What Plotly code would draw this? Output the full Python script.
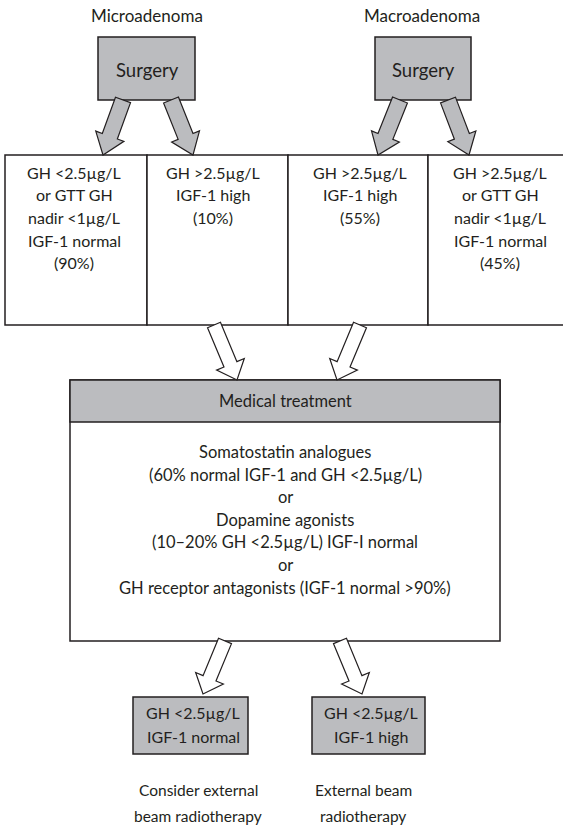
import math
import plotly.graph_objects as go

# ---- data (text content) ----
top_labels = ["Microadenoma", "Macroadenoma"]
surgery_label = "Surgery"
outcome_lines = [
    ["GH <2.5µg/L", "or GTT GH", "nadir <1µg/L", "IGF-1 normal", "(90%)"],
    ["GH >2.5µg/L", "IGF-1 high", "(10%)"],
    ["GH >2.5µg/L", "IGF-1 high", "(55%)"],
    ["GH >2.5µg/L", "or GTT GH", "nadir <1µg/L", "IGF-1 normal", "(45%)"],
]
medical_title = "Medical treatment"
medical_lines = [
    "Somatostatin analogues",
    "(60% normal IGF-1 and GH <2.5µg/L)",
    "or",
    "Dopamine agonists",
    "(10–20% GH <2.5µg/L) IGF-I normal",
    "or",
    "GH receptor antagonists (IGF-1 normal >90%)",
]
result_lines = [["GH <2.5µg/L", "IGF-1 normal"], ["GH <2.5µg/L", "IGF-1 high"]]
action_lines = [["Consider external", "beam radiotherapy"], ["External beam", "radiotherapy"]]

W, H = 563, 825
FONT = "Lato"
INK = "#231f20"
GRAY = "#bbbcbf"

fig = go.Figure()
shapes = []
annotations = []


def rect(x0, y0, x1, y1, fill="white", lw=1.5):
    shapes.append(dict(type="rect", xref="x", yref="y", x0=x0, y0=y0, x1=x1, y1=y1,
                       fillcolor=fill, line=dict(color=INK, width=lw), layer="above"))


def text(x, y, s, size=16):
    annotations.append(dict(x=x, y=y, xref="x", yref="y", text=s, showarrow=False,
                            xanchor="center", yanchor="middle",
                            font=dict(family=FONT, size=size, color=INK)))


def arrow(x0, y0, x1, y1, shaft=15, head_w=28, head_len=18, fill="white"):
    dx, dy = x1 - x0, y1 - y0
    L = math.hypot(dx, dy)
    ux, uy = dx / L, dy / L
    px, py = -uy, ux
    bx, by = x1 - ux * head_len, y1 - uy * head_len
    s, h = shaft / 2, head_w / 2
    pts = [
        (x0 + px * s, y0 + py * s),
        (bx + px * s, by + py * s),
        (bx + px * h, by + py * h),
        (x1, y1),
        (bx - px * h, by - py * h),
        (bx - px * s, by - py * s),
        (x0 - px * s, y0 - py * s),
    ]
    path = "M " + " L ".join(f"{x:.2f},{y:.2f}" for x, y in pts) + " Z"
    shapes.append(dict(type="path", xref="x", yref="y", path=path, fillcolor=fill,
                       line=dict(color=INK, width=1.2), layer="above"))


# top labels and surgery boxes
text(147, 15, top_labels[0], 17)
text(422, 15, top_labels[1], 17)
rect(98, 37, 195, 100, fill=GRAY)
rect(375, 37, 471, 100, fill=GRAY)
text(147, 70, surgery_label, 18.5)
text(423, 70, surgery_label, 18.5)

# outcome boxes
box_edges = [5, 147, 288, 428, 572]
for i in range(4):
    rect(box_edges[i], 155, box_edges[i + 1], 325)
centers = [74, 213, 360, 500]
for c, lines in zip(centers, outcome_lines):
    for j, s in enumerate(lines):
        text(c, 172 + j * 22.7, s, 16)

# gray arrows from surgery
arrow(123, 100, 103, 155, shaft=16, head_w=30, head_len=20, fill=GRAY)
arrow(171, 100, 193, 155, shaft=16, head_w=30, head_len=20, fill=GRAY)
arrow(400, 100, 378, 155, shaft=16, head_w=30, head_len=20, fill=GRAY)
arrow(448, 100, 469, 155, shaft=16, head_w=30, head_len=20, fill=GRAY)

# medical treatment box
rect(70, 380, 500, 641)
shapes.append(dict(type="rect", xref="x", yref="y", x0=70, y0=380, x1=500, y1=422,
                   fillcolor=GRAY, line=dict(color=INK, width=1.5), layer="above"))
text(285, 401, medical_title, 16.5)
for j, s in enumerate(medical_lines):
    text(285, 452 + j * 22.6, s, 16.5)

# white arrows to medical treatment
arrow(214, 325, 237, 380, shaft=14, head_w=30, head_len=17)
arrow(360, 325, 337, 380, shaft=14, head_w=30, head_len=17)

# result boxes
rect(133, 697, 248, 754, fill=GRAY)
rect(312, 697, 425, 754, fill=GRAY)
for c, lines in zip([193, 371], result_lines):
    for j, s in enumerate(lines):
        text(c, 712 + j * 24, s, 16)

# white arrows from medical treatment
arrow(225, 641, 203, 694, shaft=14, head_w=30, head_len=17)
arrow(340, 641, 362, 694, shaft=14, head_w=30, head_len=17)

for c, lines in zip([198, 363], action_lines):
    for j, s in enumerate(lines):
        text(c, 790 + j * 26, s, 15.5)

fig.update_layout(
    width=W, height=H, margin=dict(l=0, r=0, t=0, b=0),
    paper_bgcolor="white", plot_bgcolor="white",
    xaxis=dict(range=[0, W], visible=False, fixedrange=True),
    yaxis=dict(range=[H, 0], visible=False, fixedrange=True),
    shapes=shapes, annotations=annotations, showlegend=False,
)
fig.write_html(
    "out.html",
    config={"displayModeBar": False},
    post_script="document.body.style.margin='0';document.body.style.overflow='hidden';",
)
